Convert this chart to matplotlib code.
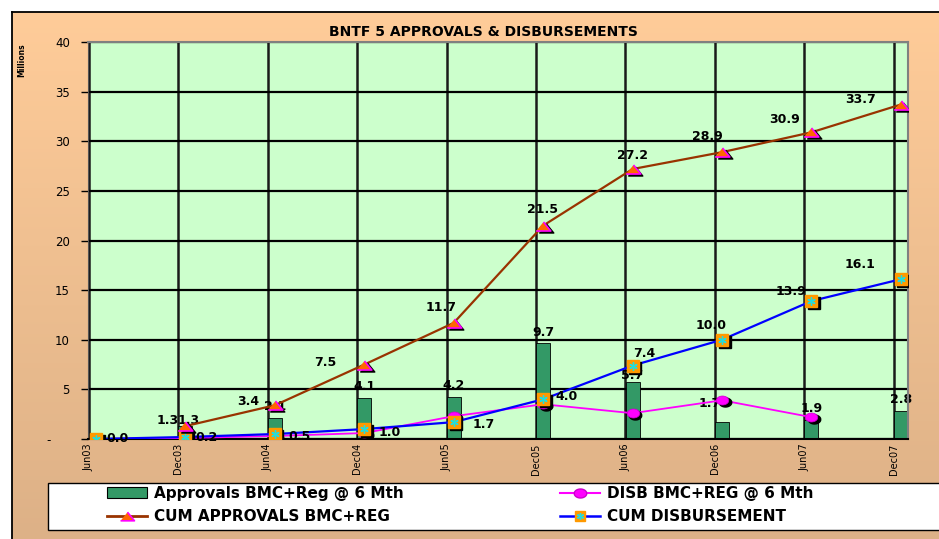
import matplotlib
matplotlib.use('Agg')
import matplotlib.pyplot as plt
import numpy as np
from matplotlib.transforms import offset_copy
from matplotlib.patches import Rectangle, Patch
from matplotlib.lines import Line2D

W, H = 939, 539

periods = ['Jun03', 'Dec03', 'Jun04', 'Dec04', 'Jun05', 'Dec05', 'Jun06', 'Dec06', 'Jun07', 'Dec07']
approvals = [0.0, 1.3, 2.1, 4.1, 4.2, 9.7, 5.7, 1.7, 1.9, 2.8]
disb = [0.0, 0.1, 0.3, 0.6, 2.3, 3.5, 2.6, 3.9, 2.2, np.nan]
cum_approvals = [np.nan, 1.3, 3.4, 7.5, 11.7, 21.5, 27.2, 28.9, 30.9, 33.7]
cum_disb = [0.0, 0.2, 0.5, 1.0, 1.7, 4.0, 7.4, 10.0, 13.9, 16.1]

# label nudges in pixels (dx, dy), dragged around like in the original sheet
bar_lbl_off = [None, (3, 6), (0, 12), (0, 12), (0, 12), (0, 10), (0, 7), (-12, 19), (0, 12), (0, 12)]
capp_lbl_off = [None, (-18, 6), (-27, 4), (-39, 2), (-13, 15), (-1, 16), (0, 14), (-15, 16), (-27, 13), (-40, 5)]
cdisb_lbl_off = [(21, 0), (21, 0), (25, -2), (25, -3), (30, -2), (23, 3), (12, 12), (-11, 14), (-20, 10), (-41, 15)]


def fx(px):
    return px / W


def fy(py):
    return 1 - py / H


fig = plt.figure(figsize=(W / 100, H / 100), dpi=100, facecolor='white')

# chart area background, peach fading to tan
bg = fig.add_axes([fx(12), 0, 1 - fx(12), fy(12)], zorder=0)
grad = np.linspace(0, 1, 256)[:, None, None]
top = np.array([255, 204, 153]) / 255
bottom = np.array([221, 177, 135]) / 255
bg.imshow(top + (bottom - top) * grad, aspect='auto', extent=[0, 1, 0, 1])
bg.set_xlim(0, 1)
bg.set_ylim(0, 1)
bg.set_xticks([])
bg.set_yticks([])
for side in ['right', 'bottom']:
    bg.spines[side].set_visible(False)
for side in ['left', 'top']:
    bg.spines[side].set_linewidth(1.3)

ax = fig.add_axes([fx(88), fy(439), fx(908) - fx(88), fy(42) - fy(439)], zorder=1)
ax.set_facecolor('#CCFFCC')
ax.set_axisbelow(True)

x = np.arange(len(periods))
xc = x + 0.08
sh = offset_copy(ax.transData, fig=fig, x=2.5, y=-2, units='dots')

tri = [(-1, -0.62), (1, -0.62), (0, 0.62)]
t = np.linspace(0, 2 * np.pi, 40)
ell = np.column_stack([np.cos(t), 0.72 * np.sin(t)])

ax.bar(xc, approvals, width=0.157, color='#339966', edgecolor='black', linewidth=0.6, zorder=2)

# DISB per half year
ax.plot(xc, disb, color='#FF00FF', lw=1.3, zorder=3)
ax.plot(xc, disb, ls='none', marker=ell, ms=9, mfc='black', mec='black', transform=sh, zorder=3)
ax.plot(xc, disb, ls='none', marker=ell, ms=9, mfc='#FF00FF', mec='#CC00CC', mew=0.5, zorder=3)

# cumulative disbursement
ax.plot(xc, cum_disb, color='#0000FF', lw=1.6, zorder=4)
ax.plot(xc, cum_disb, ls='none', marker='s', ms=8, mfc='black', mec='black', transform=sh, zorder=4)
ax.plot(xc, cum_disb, ls='none', marker='s', ms=8, mfc='#FF9900', mec='#FF9900', zorder=4)
ax.plot(xc, cum_disb, ls='none', marker=(6, 2, 0), ms=6, mec='#22DDDD', mew=1, zorder=4)

# cumulative approvals
ax.plot(xc, cum_approvals, color='#993300', lw=1.6, zorder=5)
ax.plot(xc, cum_approvals, ls='none', marker=tri, ms=10.5, mfc='black', mec='black', transform=sh, zorder=5)
ax.plot(xc, cum_approvals, ls='none', marker=tri, ms=10.5, mfc='#FF6600', mec='#FF00FF', mew=1.2, zorder=5)

lbl = dict(textcoords='offset pixels', ha='center', va='center', fontsize=9, fontweight='bold')
for i in range(len(periods)):
    if bar_lbl_off[i] is not None:
        ax.annotate(f'{approvals[i]:.1f}', (xc[i], approvals[i]), xytext=bar_lbl_off[i], zorder=2.5, **lbl)
    if capp_lbl_off[i] is not None:
        ax.annotate(f'{cum_approvals[i]:.1f}', (xc[i], cum_approvals[i]), xytext=capp_lbl_off[i], zorder=6, **lbl)
    ax.annotate(f'{cum_disb[i]:.1f}', (xc[i], cum_disb[i]), xytext=cdisb_lbl_off[i], zorder=6, **lbl)

ax.set_xlim(-0.01, 9.16)
ax.set_ylim(0, 40)
yt = list(range(0, 41, 5))
ax.set_yticks(yt)
ax.set_yticklabels(['-     ' if v == 0 else str(v) for v in yt])
ax.tick_params(axis='y', direction='out', length=5, width=1, pad=8, labelsize=8.5)
ax.set_xticks(x)
ax.set_xticklabels(periods, rotation=90, va='top', ha='center', fontsize=7)
ax.tick_params(axis='x', length=0, pad=3)
ax.grid(axis='y', color='black', lw=1.6)
ax.grid(axis='x', color='#1a1a1a', lw=1.8)
ax.spines['top'].set_color('#808080')
ax.spines['right'].set_color('#808080')
ax.spines['top'].set_linewidth(1.5)
ax.spines['right'].set_linewidth(1.5)
ax.spines['left'].set_color('#555555')
ax.spines['bottom'].set_linewidth(1.5)

fig.text(fx(483), fy(32), 'BNTF 5 APPROVALS & DISBURSEMENTS', ha='center', va='center',
         fontsize=10, fontweight='bold')
fig.text(fx(22), fy(60), 'Millions', rotation=90, ha='center', va='center', fontsize=5.5, fontweight='bold')

# legend box
fig.add_artist(Rectangle((fx(48), fy(530)), fx(945) - fx(48), fy(483) - fy(530), transform=fig.transFigure,
                         facecolor='white', edgecolor='black', lw=1, zorder=2))

h_bar = Patch(facecolor='#339966', edgecolor='black', linewidth=0.8)
h_capp = Line2D([], [], color='#993300', lw=2, marker=tri, ms=10, mfc='#FF6600', mec='#FF00FF', mew=1.2)
h_disb = Line2D([], [], color='#FF00FF', lw=1.5, marker=ell, ms=9, mfc='#FF00FF', mec='#CC00CC')
h_cdisb = (Line2D([], [], color='#0000FF', lw=1.8, marker='s', ms=7, mfc='#FF9900', mec='#FF9900'),
           Line2D([], [], ls='none', marker=(6, 2, 0), ms=5, mec='#22DDDD', mew=1))

leg_kw = dict(loc='upper left', frameon=False, borderpad=0, borderaxespad=0, handlelength=2.6,
              handletextpad=0.5, labelspacing=0.55, prop=dict(weight='bold', size=11))
leg1 = fig.legend([h_bar, h_capp], ['Approvals BMC+Reg @ 6 Mth', 'CUM APPROVALS BMC+REG'],
                  bbox_to_anchor=(fx(107), fy(486)), **leg_kw)
leg2 = fig.legend([h_disb, h_cdisb], ['DISB BMC+REG @ 6 Mth', 'CUM DISBURSEMENT'],
                  bbox_to_anchor=(fx(560), fy(486)), **leg_kw)
leg1.set_zorder(3)
leg2.set_zorder(3)

fig.savefig('out.png', dpi=100, facecolor='white')
